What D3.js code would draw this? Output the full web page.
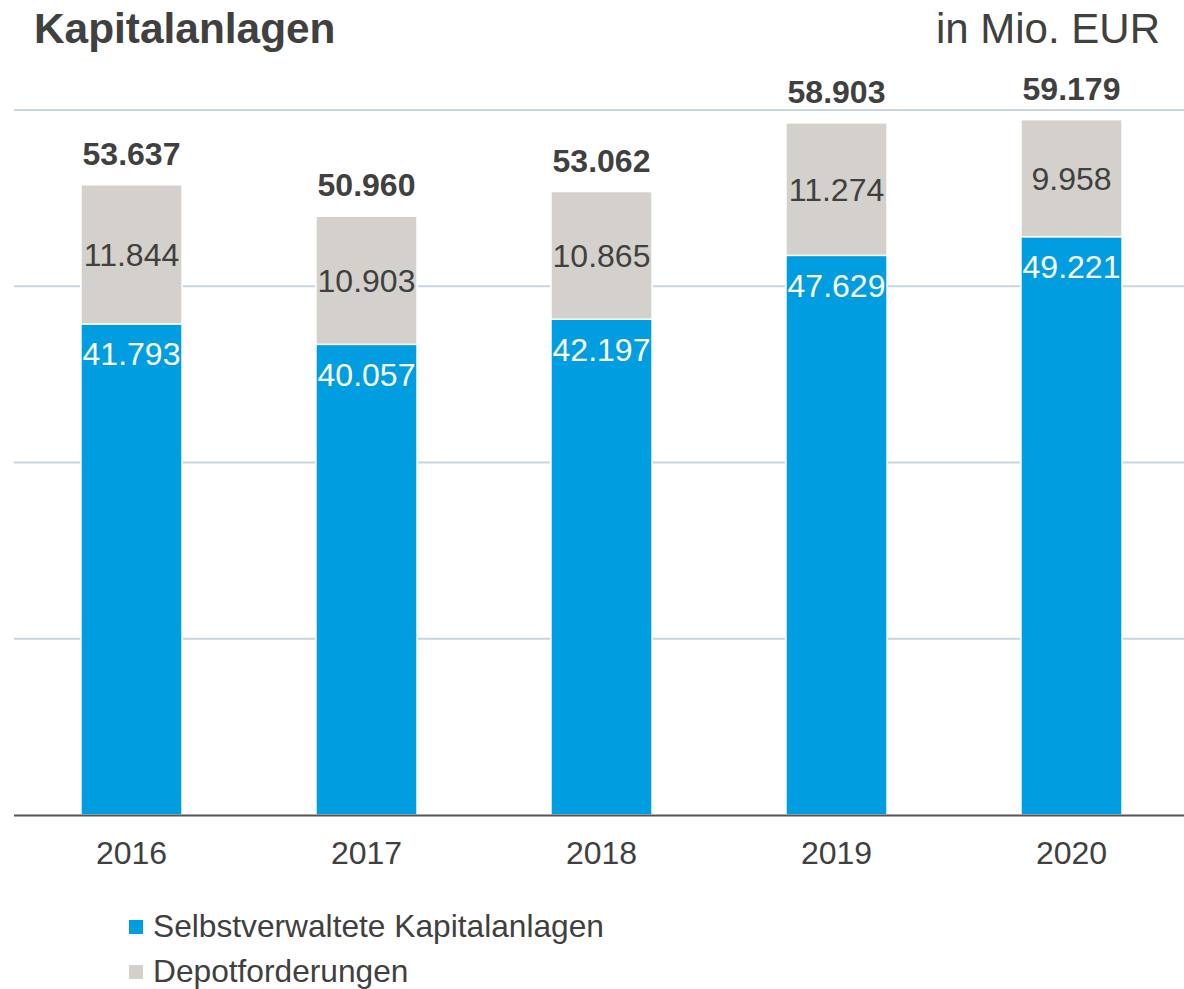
<!DOCTYPE html>
<html>
<head>
<meta charset="utf-8">
<script src="https://cdn.jsdelivr.net/npm/d3@7"></script>
<style>
  html, body { margin: 0; padding: 0; background: #fff; }
  svg { display: block; font-family: "Liberation Sans", Arial, sans-serif; }
</style>
</head>
<body>
<svg id="chart" width="1184" height="989"></svg>
<script>
// ---- data ----
const years = ["2016", "2017", "2018", "2019", "2020"];
const selbstverwaltet = [41793, 40057, 42197, 47629, 49221];
const depotforderungen = [11844, 10903, 10865, 11274, 9958];
const gridTicks = [15000, 30000, 45000, 60000];
const seriesNames = ["Selbstverwaltete Kapitalanlagen", "Depotforderungen"];
const titleText = "Kapitalanlagen";
const unitText = "in Mio. EUR";

// ---- setup ----
const colors = ["#009ee0", "#d4d1cc"];
const textColor = "#404040";
const de = d3.formatLocale({ decimal: ",", thousands: ".", grouping: [3], currency: ["", " €"] });
const fmt = de.format(",d");

const svg = d3.select("#chart");
const x = d3.scaleBand().domain(years).range([14, 1189]).paddingInner(0.57).paddingOuter(0.285);
const y = d3.scaleLinear().domain([0, 60000]).range([815, 110]);

const rows = years.map((yr, i) => ({
  year: yr,
  selbst: selbstverwaltet[i],
  depot: depotforderungen[i],
  total: selbstverwaltet[i] + depotforderungen[i]
}));
const stack = d3.stack().keys(["selbst", "depot"])(rows);

// gridlines
svg.append("g").selectAll("line").data(gridTicks).join("line")
  .attr("x1", 14).attr("x2", 1189)
  .attr("y1", d => y(d)).attr("y2", d => y(d))
  .attr("stroke", "#c8d5df").attr("stroke-width", 2);

// bars
stack.forEach((layer, li) => {
  svg.append("g").selectAll("rect").data(layer).join("rect")
    .attr("x", d => x(d.data.year))
    .attr("width", x.bandwidth())
    .attr("y", d => y(d[1]))
    .attr("height", d => y(d[0]) - y(d[1]))
    .attr("fill", colors[li])
    .attr("stroke", "#fff").attr("stroke-width", 1.5);
});

// axis baseline
svg.append("line").attr("x1", 14).attr("x2", 1189).attr("y1", y(0) + 0.5).attr("y2", y(0) + 0.5)
  .attr("stroke", "#555").attr("stroke-width", 2);

// segment labels: blue (inside top), gray (centered)
svg.append("g").selectAll("text").data(stack[0]).join("text")
  .attr("x", d => x(d.data.year) + x.bandwidth() / 2)
  .attr("y", d => y(d[1]) + 41.5)
  .attr("text-anchor", "middle")
  .attr("font-size", 32).attr("fill", "#fff")
  .text(d => fmt(d[1] - d[0]));

svg.append("g").selectAll("text").data(stack[1]).join("text")
  .attr("x", d => x(d.data.year) + x.bandwidth() / 2)
  .attr("y", d => (y(d[0]) + y(d[1])) / 2 + 11.5)
  .attr("text-anchor", "middle")
  .attr("font-size", 32).attr("fill", textColor)
  .text(d => fmt(d[1] - d[0]));

// totals
svg.append("g").selectAll("text").data(rows).join("text")
  .attr("x", d => x(d.year) + x.bandwidth() / 2)
  .attr("y", d => y(d.total) - 20)
  .attr("text-anchor", "middle")
  .attr("font-size", 32).attr("font-weight", "bold").attr("fill", textColor)
  .text(d => fmt(d.total));

// year labels
svg.append("g").selectAll("text").data(years).join("text")
  .attr("x", d => x(d) + x.bandwidth() / 2)
  .attr("y", 864)
  .attr("text-anchor", "middle")
  .attr("font-size", 32).attr("fill", textColor)
  .text(d => d);

// title & unit
svg.append("text").attr("x", 34).attr("y", 43)
  .attr("font-size", 42.4).attr("font-weight", "bold").attr("fill", textColor)
  .text(titleText);
svg.append("text").attr("x", 1160).attr("y", 43).attr("text-anchor", "end")
  .attr("font-size", 42).attr("fill", textColor)
  .text(unitText);

// legend
const lg = svg.append("g").selectAll("g").data(seriesNames).join("g")
  .attr("transform", (d, i) => `translate(129, ${920 + i * 45})`);
lg.append("rect").attr("width", 14).attr("height", 14).attr("fill", (d, i) => colors[i]);
lg.append("text").attr("x", 24).attr("y", 16.5)
  .attr("font-size", 31.7).attr("fill", textColor)
  .text(d => d);
</script>
</body>
</html>
